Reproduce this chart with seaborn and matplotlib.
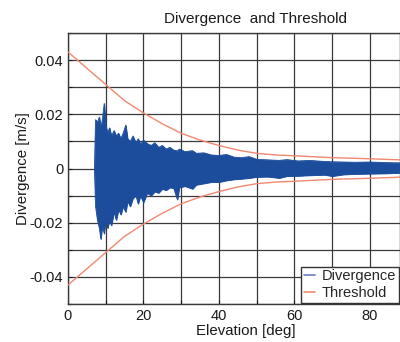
import matplotlib
matplotlib.use("Agg")
import matplotlib.pyplot as plt
import seaborn as sns
import pandas as pd
from matplotlib.lines import Line2D

# Threshold curve (symmetric +/-)
thr_elev = [0, 5, 10, 15, 20, 25, 30, 35, 40, 45, 50, 55, 60, 70, 80, 88]
thr_val = [0.043, 0.037, 0.031, 0.025, 0.0205, 0.0165, 0.013, 0.0105, 0.0085,
           0.0068, 0.0056, 0.005, 0.0047, 0.0040, 0.0036, 0.0032]

# Divergence envelope
div_elev = [7.0, 7.3, 7.8, 8.3, 8.7, 9.1, 9.6, 10.0, 10.5, 11.0, 11.5, 12.2, 12.8, 13.4,
            14.0, 14.6, 15.3, 15.8, 16.5, 17.2, 18.0, 18.6, 19.2, 20, 21, 22, 23, 24, 25,
            26, 27, 28, 29, 29.5, 31, 33, 34, 36, 38, 40, 42, 44, 46, 48, 50, 53, 56, 58,
            61, 64, 68, 70, 73, 76, 80, 84, 88]
div_upper = [0.0, 0.018, 0.017, 0.019, 0.015, 0.018, 0.024, 0.016, 0.013, 0.015, 0.012,
             0.014, 0.012, 0.013, 0.011, 0.013, 0.016, 0.011, 0.010, 0.012, 0.0095, 0.011,
             0.009, 0.0105, 0.0092, 0.0085, 0.0095, 0.0078, 0.0085, 0.0072, 0.0078,
             0.0068, 0.0065, 0.0072, 0.0062, 0.0066, 0.0056, 0.0058, 0.0050, 0.0048,
             0.0052, 0.0042, 0.0040, 0.0044, 0.0034, 0.0032, 0.0030, 0.0033, 0.0028,
             0.0030, 0.0026, 0.0025, 0.0024, 0.0023, 0.0024, 0.0022, 0.0021]
div_lower = [0.0, -0.014, -0.019, -0.022, -0.026, -0.021, -0.024, -0.018, -0.022, -0.019,
             -0.021, -0.016, -0.019, -0.015, -0.017, -0.014, -0.016, -0.012, -0.014,
             -0.011, -0.010, -0.013, -0.010, -0.0125, -0.009, -0.010, -0.0085, -0.009,
             -0.0075, -0.008, -0.007, -0.0072, -0.0115, -0.007, -0.0065, -0.0075, -0.006,
             -0.0055, -0.005, -0.0050, -0.0044, -0.0040, -0.0038, -0.0035, -0.0031,
             -0.0030, -0.0035, -0.0028, -0.0027, -0.0025, -0.0023, -0.0028, -0.0022,
             -0.0020, -0.0019, -0.0018, -0.0016]

sns.set_style("whitegrid", {"grid.color": "#3a3a3a", "axes.edgecolor": "#3a3a3a",
                            "xtick.bottom": True, "ytick.left": True})
plt.rcParams['font.family'] = ['Liberation Sans', 'DejaVu Sans']

fig = plt.figure(figsize=(4.0, 3.42), dpi=100)
ax = fig.add_axes([0.17, 0.111, 0.83, 0.7925])

blue = "#1c4d9c"
red = "#f08872"

thr = pd.DataFrame({"elev": thr_elev, "up": thr_val, "lo": [-v for v in thr_val]})
div = pd.DataFrame({"elev": div_elev, "up": div_upper, "lo": div_lower})

ax.fill_between(div["elev"], div["lo"], div["up"], color=blue, linewidth=0.6, edgecolor=blue, zorder=3)
sns.lineplot(data=div, x="elev", y="up", ax=ax, color=blue, lw=0.6, zorder=3)
sns.lineplot(data=div, x="elev", y="lo", ax=ax, color=blue, lw=0.6, zorder=3)
sns.lineplot(data=thr, x="elev", y="up", ax=ax, color=red, lw=1.0, zorder=4)
sns.lineplot(data=thr, x="elev", y="lo", ax=ax, color=red, lw=1.0, zorder=4)

ax.set_xlim(0, 88)
ax.set_ylim(-0.05, 0.05)
ax.set_xticks([0, 10, 20, 30, 40, 50, 60, 70, 80])
ax.set_xticklabels(["0", "", "20", "", "40", "", "60", "", "80"])
ax.set_yticks([-0.05, -0.04, -0.03, -0.02, -0.01, 0, 0.01, 0.02, 0.03, 0.04, 0.05])
ax.set_yticklabels(["", "-0.04", "", "-0.02", "", "0", "", "0.02", "", "0.04", ""])
ax.grid(True, color="#3a3a3a", lw=0.9)
ax.tick_params(axis="both", labelsize=10.5, length=3, direction="in", colors="#1a1a1a")
for s in ax.spines.values():
    s.set_color("#3a3a3a")
    s.set_linewidth(1.0)

ax.set_title("Divergence  and Threshold", fontsize=11, color="#1a1a1a", pad=7, x=0.566)
ax.set_xlabel("Elevation [deg]", fontsize=10.8, color="#1a1a1a", labelpad=1, x=0.535)
ax.set_ylabel("Divergence [m/s]", fontsize=10.8, color="#1a1a1a", labelpad=0)

handles = [Line2D([0], [0], color="#6a7fc0", lw=1.2), Line2D([0], [0], color=red, lw=1.2)]
leg = ax.legend(handles, ["Divergence", "Threshold"], loc="lower right", fontsize=10.5,
                frameon=True, fancybox=False, handlelength=0.8, handletextpad=0.4,
                borderpad=0.2, labelspacing=0.15, borderaxespad=0.1)
leg.get_frame().set_edgecolor("#333333")
leg.get_frame().set_linewidth(1.0)
leg.get_frame().set_alpha(1)

fig.savefig("out.png", dpi=100)
